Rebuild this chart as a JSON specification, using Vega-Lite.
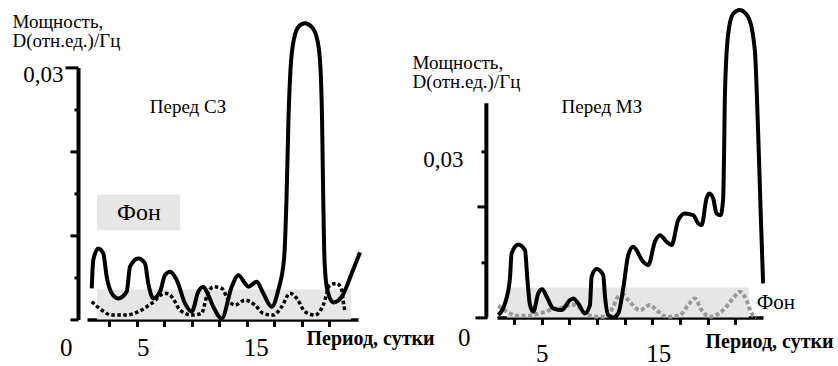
{
  "$schema": "https://vega.github.io/schema/vega-lite/v6.json",
  "background": "white",
  "padding": {"left": 12, "top": 7.4, "right": 0, "bottom": 0},
  "bounds": "flush",
  "spacing": 139,
  "config": {
    "view": {"stroke": null},
    "font": "Liberation Serif, DejaVu Serif, serif",
    "axis": {"grid": false, "domainColor": "black", "tickColor": "black", "labelColor": "black", "titleColor": "black", "labelFont": "Liberation Serif, DejaVu Serif, serif", "titleFont": "Liberation Serif, DejaVu Serif, serif", "labelFlush": false, "labelOverlap": false, "labelBound": false}
  },
  "hconcat": [
    {
      "width": 271,
      "height": 252,
      "encoding": {
        "x": {"field": "x", "type": "quantitative", "scale": {"domain": [0.48, 25.12], "nice": false, "zero": false},
          "axis": {
            "values": [2.5, 5, 7.5, 10, 12.5, 15, 17.5, 20, 22.5],
            "labelExpr": "datum.value == 5 ? '5' : datum.value == 15 ? '15' : ''",
            "labelFontSize": 25, "labelBaseline": "alphabetic", "labelPadding": 29,
            "labelOffset": {"condition": {"test": "datum.value == 15", "value": 9}, "value": 6},
            "tickSize": 7, "tickWidth": 3, "domainWidth": 3.5,
            "title": "Период, сутки", "titleFontSize": 20, "titleFontWeight": "bold", "titleAlign": "left", "titleBaseline": "alphabetic", "titleX": 219, "titleY": 25, "titleAngle": 0
          }},
        "y": {"field": "y", "type": "quantitative", "scale": {"domain": [0, 0.03], "nice": false, "zero": false},
          "axis": {
            "values": [0, 0.005, 0.01, 0.015, 0.02, 0.025, 0.03],
            "labelExpr": "datum.value == 0.03 ? '0,03' : datum.value == 0 ? '0' : ''",
            "labelBaseline": "alphabetic",
            "labelFontSize": {"condition": {"test": "datum.value == 0", "value": 25}, "value": 23},
            "labelOffset": {"condition": {"test": "datum.value == 0", "value": 36}, "value": 14},
            "labelPadding": {"condition": {"test": "datum.value == 0", "value": -2}, "value": 2},
            "tickSize": {"condition": [{"test": "datum.value == 0.03", "value": 13}, {"test": "datum.value == 0 || datum.value == 0.01 || datum.value == 0.02", "value": 8}], "value": 4},
            "tickWidth": 3, "domainWidth": 4, "offset": 9,
            "title": ["Мощность,", "D(отн.ед.)/Гц"], "titleFontSize": 19, "titleFontWeight": "normal", "titleAngle": 0, "titleAlign": "left", "titleBaseline": "alphabetic", "titleX": -66, "titleY": -39.5, "titleLineHeight": 19
          }}
      },
      "layer": [
        {
          "data": {"values": [{"x": 1.39, "x2": 24.48, "y": 0, "y2": 0.00357}, {"x": 1.39, "x2": 8.94, "y": 0.0106, "y2": 0.01488}]},
          "mark": {"type": "rect", "color": "#e6e6e6"},
          "encoding": {"x2": {"field": "x2"}, "y2": {"field": "y2"}}
        },
        {
          "data": {"values": [
            {"x": 0.91, "y": 0.00211}, {"x": 1.82, "y": 0.00111}, {"x": 2.73, "y": 0.00051}, {"x": 3.94, "y": 0.00051},
            {"x": 5.15, "y": 0.00092}, {"x": 6.36, "y": 0.0019}, {"x": 7.57, "y": 0.0031}, {"x": 8.18, "y": 0.0027},
            {"x": 8.94, "y": 0.00111}, {"x": 10.0, "y": 0.00051}, {"x": 10.9, "y": 0.00071}, {"x": 11.36, "y": 0.0027},
            {"x": 11.96, "y": 0.00389}, {"x": 12.73, "y": 0.00369}, {"x": 13.33, "y": 0.0023}, {"x": 13.94, "y": 0.0017},
            {"x": 14.85, "y": 0.0023}, {"x": 15.76, "y": 0.0017}, {"x": 16.51, "y": 0.00071}, {"x": 17.42, "y": 0.00051},
            {"x": 18.18, "y": 0.00151}, {"x": 18.94, "y": 0.0031}, {"x": 19.55, "y": 0.0025}, {"x": 20.3, "y": 0.00092},
            {"x": 21.2, "y": 0.00051}, {"x": 21.96, "y": 0.0017}, {"x": 22.57, "y": 0.00408}, {"x": 23.18, "y": 0.00429},
            {"x": 23.64, "y": 0.00349}, {"x": 23.78, "y": 0.00211}, {"x": 23.94, "y": 0.00092}
          ]},
          "mark": {"type": "line", "interpolate": "monotone", "color": "black", "strokeWidth": 3.5, "strokeDash": [3.5, 2.5], "strokeJoin": "round"},
          "encoding": {}
        },
        {
          "data": {"values": [
            {"x": 0.91, "y": 0.00369}, {"x": 1.05, "y": 0.00706}, {"x": 1.51, "y": 0.00845}, {"x": 1.96, "y": 0.00786},
            {"x": 2.27, "y": 0.00508}, {"x": 2.73, "y": 0.0031}, {"x": 3.33, "y": 0.0025}, {"x": 4.09, "y": 0.0033},
            {"x": 4.39, "y": 0.00627}, {"x": 5.15, "y": 0.00726}, {"x": 5.75, "y": 0.00667}, {"x": 6.05, "y": 0.00429},
            {"x": 6.51, "y": 0.0025}, {"x": 7.12, "y": 0.0033}, {"x": 7.57, "y": 0.00527}, {"x": 8.03, "y": 0.00568},
            {"x": 8.64, "y": 0.00468}, {"x": 9.39, "y": 0.0019}, {"x": 10.0, "y": 0.00092}, {"x": 10.6, "y": 0.0033},
            {"x": 11.05, "y": 0.00389}, {"x": 11.51, "y": 0.00289}, {"x": 11.96, "y": 0.00151}, {"x": 12.73, "y": 0.00012},
            {"x": 13.64, "y": 0.00389}, {"x": 14.24, "y": 0.00527}, {"x": 14.85, "y": 0.00429}, {"x": 15.15, "y": 0.00389},
            {"x": 15.91, "y": 0.00449}, {"x": 16.51, "y": 0.0031}, {"x": 17.27, "y": 0.00151}, {"x": 17.87, "y": 0.00349},
            {"x": 18.4, "y": 0.00726}, {"x": 18.62, "y": 0.0144}, {"x": 18.8, "y": 0.0239}, {"x": 18.98, "y": 0.0297},
            {"x": 19.3, "y": 0.0334}, {"x": 19.75, "y": 0.0349}, {"x": 20.3, "y": 0.03527}, {"x": 20.85, "y": 0.0349},
            {"x": 21.36, "y": 0.0336}, {"x": 21.66, "y": 0.0309}, {"x": 21.85, "y": 0.0239}, {"x": 21.96, "y": 0.0144},
            {"x": 22.07, "y": 0.00726}, {"x": 22.3, "y": 0.00369}, {"x": 22.87, "y": 0.00202}, {"x": 23.64, "y": 0.0027},
            {"x": 24.55, "y": 0.00548}, {"x": 25.3, "y": 0.00798}
          ]},
          "mark": {"type": "line", "interpolate": "monotone", "color": "black", "strokeWidth": 4, "strokeJoin": "round"},
          "encoding": {}
        },
        {
          "data": {"values": [{"x": 9.66, "y": 0.02524, "t": "Перед СЗ"}]},
          "mark": {"type": "text", "font": "Liberation Serif, DejaVu Serif, serif", "fontSize": 19, "align": "center", "baseline": "middle", "color": "black"},
          "encoding": {"text": {"field": "t"}}
        },
        {
          "data": {"values": [{"x": 5.2, "y": 0.0127, "t": "Фон"}]},
          "mark": {"type": "text", "font": "Liberation Serif, DejaVu Serif, serif", "fontSize": 24, "align": "center", "baseline": "middle", "color": "black"},
          "encoding": {"text": {"field": "t"}}
        }
      ]
    },
    {
      "width": 266,
      "height": 250,
      "encoding": {
        "x": {"field": "x", "type": "quantitative", "scale": {"domain": [0.96, 25], "nice": false, "zero": false},
          "axis": {
            "values": [2.5, 5, 7.5, 10, 12.5, 15, 17.5, 20, 22.5],
            "labelExpr": "datum.value == 5 ? '5' : datum.value == 15 ? '15' : ''",
            "labelFontSize": 25, "labelBaseline": "alphabetic", "labelPadding": 37,
            "labelOffset": {"condition": {"test": "datum.value == 15", "value": 6}, "value": 0},
            "tickSize": 7, "tickWidth": 3, "domainWidth": 3.5,
            "title": "Период, сутки", "titleFontSize": 20, "titleFontWeight": "bold", "titleAlign": "left", "titleBaseline": "alphabetic", "titleX": 208, "titleY": 30, "titleAngle": 0
          }},
        "y": {"field": "y", "type": "quantitative", "scale": {"domain": [0, 0.0452], "nice": false, "zero": false},
          "axis": {
            "values": [0, 0.01, 0.02, 0.03],
            "labelExpr": "datum.value == 0.03 ? '0,03' : datum.value == 0 ? '0' : ''",
            "labelBaseline": "alphabetic",
            "domain": false,
            "labelFontSize": {"condition": {"test": "datum.value == 0", "value": 25}, "value": 23},
            "labelOffset": {"condition": {"test": "datum.value == 0", "value": 28}, "value": 15},
            "labelPadding": {"condition": {"test": "datum.value == 0", "value": 5}, "value": 18},
            "tickSize": {"condition": [{"test": "datum.value == 0", "value": 12}, {"test": "datum.value == 0.02", "value": 10}], "value": 6},
            "tickWidth": 3, "offset": 10,
            "title": ["Мощность,", "D(отн.ед.)/Гц"], "titleFontSize": 19, "titleFontWeight": "normal", "titleAngle": 0, "titleAlign": "left", "titleBaseline": "alphabetic", "titleX": -75, "titleY": 1, "titleLineHeight": 19
          }}
      },
      "layer": [
        {
          "data": {"values": [{"x": 1.86, "x2": 23.72, "y": 0, "y2": 0.00542}]},
          "mark": {"type": "rect", "color": "#e6e6e6"},
          "encoding": {"x2": {"field": "x2"}, "y2": {"field": "y2"}}
        },
        {
          "data": {"values": [{"x": 0, "y": 0, "y2": 0.0387}]},
          "mark": {"type": "rule", "color": "black", "strokeWidth": 4},
          "encoding": {"y2": {"field": "y2"}}
        },
        {
          "data": {"values": [
            {"x": 1.08, "y": 0.00211}, {"x": 1.83, "y": 0.00103}, {"x": 2.74, "y": 0.00031}, {"x": 3.64, "y": 0.00031},
            {"x": 4.84, "y": 0.00072}, {"x": 6.04, "y": 0.0015}, {"x": 6.95, "y": 0.00181}, {"x": 7.7, "y": 0.00235},
            {"x": 8.3, "y": 0.00193}, {"x": 8.9, "y": 0.00072}, {"x": 9.96, "y": 0.00013}, {"x": 10.87, "y": 0.00013},
            {"x": 11.46, "y": 0.00193}, {"x": 11.92, "y": 0.00374}, {"x": 12.37, "y": 0.00403}, {"x": 12.82, "y": 0.00313},
            {"x": 13.88, "y": 0.00132}, {"x": 14.78, "y": 0.00222}, {"x": 15.38, "y": 0.00132}, {"x": 16.29, "y": 0.00013},
            {"x": 17.49, "y": 0.00042}, {"x": 18.24, "y": 0.00222}, {"x": 18.84, "y": 0.00343}, {"x": 19.45, "y": 0.00132},
            {"x": 20.2, "y": 0.00013}, {"x": 21.4, "y": 0.00132}, {"x": 22.3, "y": 0.00343}, {"x": 22.9, "y": 0.00464},
            {"x": 23.51, "y": 0.00313}, {"x": 23.96, "y": 0.00072}, {"x": 24.4, "y": 0}
          ]},
          "mark": {"type": "line", "interpolate": "monotone", "color": "#999999", "strokeWidth": 4, "strokeDash": [4, 2.5], "strokeJoin": "round"},
          "encoding": {}
        },
        {
          "data": {"values": [
            {"x": 1.08, "y": 0.00042}, {"x": 1.68, "y": 0.00253}, {"x": 2.13, "y": 0.00705}, {"x": 2.28, "y": 0.01157},
            {"x": 2.88, "y": 0.01319}, {"x": 3.49, "y": 0.01216}, {"x": 3.7, "y": 0.00705}, {"x": 3.94, "y": 0.00222},
            {"x": 4.24, "y": 0.00103}, {"x": 4.69, "y": 0.00434}, {"x": 5.05, "y": 0.00511}, {"x": 5.45, "y": 0.00374},
            {"x": 6.04, "y": 0.00163}, {"x": 6.8, "y": 0.00132}, {"x": 7.55, "y": 0.00313}, {"x": 7.85, "y": 0.00343},
            {"x": 8.3, "y": 0.00253}, {"x": 8.9, "y": 0.00072}, {"x": 9.36, "y": 0.00222}, {"x": 9.51, "y": 0.00736},
            {"x": 9.96, "y": 0.00873}, {"x": 10.56, "y": 0.00765}, {"x": 10.71, "y": 0.00403}, {"x": 11.01, "y": 0.00042},
            {"x": 11.46, "y": 0}, {"x": 11.92, "y": 0.00072}, {"x": 12.37, "y": 0.00524}, {"x": 12.82, "y": 0.01126},
            {"x": 13.27, "y": 0.01278}, {"x": 14.17, "y": 0.01007}, {"x": 14.63, "y": 0.00945}, {"x": 15.23, "y": 0.01368},
            {"x": 15.68, "y": 0.01487}, {"x": 16.29, "y": 0.01368}, {"x": 16.74, "y": 0.01307}, {"x": 17.34, "y": 0.01759},
            {"x": 17.94, "y": 0.0188}, {"x": 18.69, "y": 0.01849}, {"x": 19.14, "y": 0.01699}, {"x": 19.45, "y": 0.01668},
            {"x": 19.9, "y": 0.02151}, {"x": 20.14, "y": 0.02241}, {"x": 20.5, "y": 0.02151}, {"x": 20.8, "y": 0.0188},
            {"x": 21.17, "y": 0.01849}, {"x": 21.4, "y": 0.02151}, {"x": 21.49, "y": 0.03054}, {"x": 21.55, "y": 0.03958},
            {"x": 21.85, "y": 0.0512}, {"x": 22.3, "y": 0.0549}, {"x": 22.9, "y": 0.0556}, {"x": 23.66, "y": 0.0543},
            {"x": 24.26, "y": 0.0484}, {"x": 24.56, "y": 0.03356}, {"x": 24.8, "y": 0.01849}, {"x": 25.01, "y": 0.00614}
          ]},
          "mark": {"type": "line", "interpolate": "monotone", "color": "black", "strokeWidth": 4, "strokeJoin": "round"},
          "encoding": {}
        },
        {
          "data": {"values": [{"x": 10.44, "y": 0.03813, "t": "Перед  МЗ"}]},
          "mark": {"type": "text", "font": "Liberation Serif, DejaVu Serif, serif", "fontSize": 19, "align": "center", "baseline": "middle", "color": "black"},
          "encoding": {"text": {"field": "t"}}
        },
        {
          "data": {"values": [{"x": 24.44, "y": 0.00253, "t": "Фон"}]},
          "mark": {"type": "text", "font": "Liberation Serif, DejaVu Serif, serif", "fontSize": 21, "align": "left", "baseline": "middle", "color": "black"},
          "encoding": {"text": {"field": "t"}}
        }
      ]
    }
  ]
}
